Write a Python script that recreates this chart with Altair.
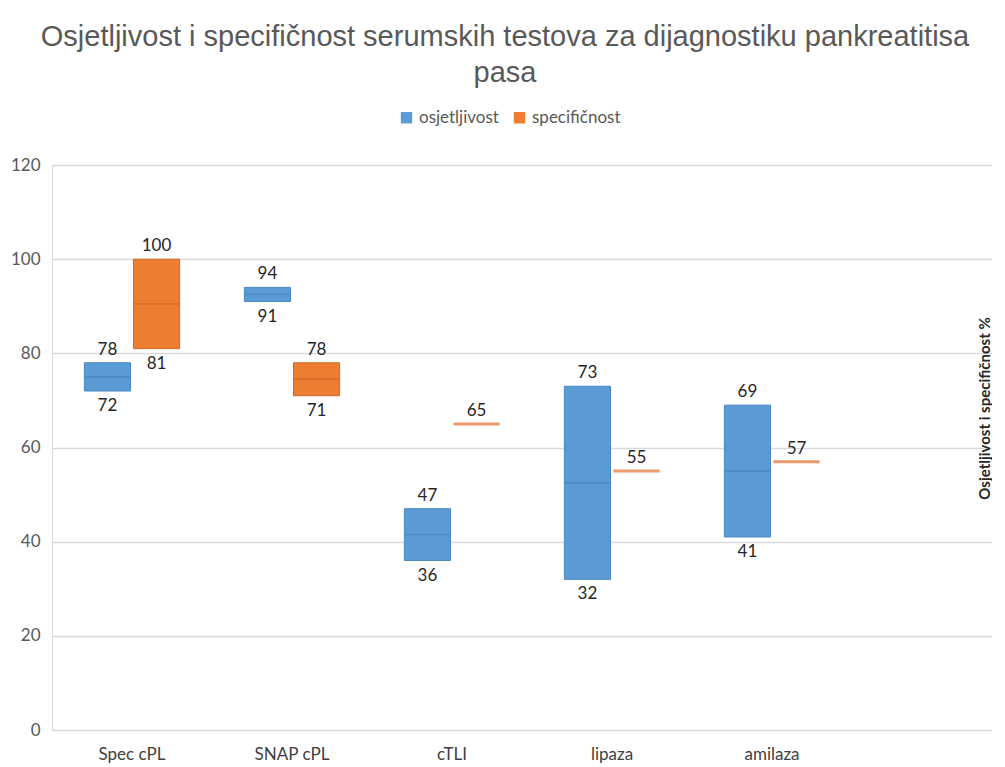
import altair as alt
import pandas as pd

categories = ["Spec cPL", "SNAP cPL", "cTLI", "lipaza", "amilaza"]
series = ["osjetljivost", "specifičnost"]
sens_low = [72, 91, 36, 32, 41]
sens_high = [78, 94, 47, 73, 69]
sens_mid = [75, 92.5, 41.5, 52.5, 55]
spec_low = [81, 71, 65, 55, 57]
spec_high = [100, 78, 65, 55, 57]
spec_mid = [90.5, 74.5, 65, 55, 57]
y_ticks = [0, 20, 40, 60, 80, 100, 120]

rows = []
for i, c in enumerate(categories):
    rows.append(dict(test=c, serija=series[0], low=sens_low[i], high=sens_high[i], mid=sens_mid[i]))
    rows.append(dict(test=c, serija=series[1], low=spec_low[i], high=spec_high[i], mid=spec_mid[i]))
df = pd.DataFrame(rows)

FONT = "Lato"

x = alt.X("test:N", sort=categories,
          scale=alt.Scale(paddingInner=0, paddingOuter=0.4375, align=0),
          axis=alt.Axis(title=None, labelAngle=0, ticks=False, domain=False,
                        labelFont=FONT, labelFontSize=17, labelColor="#404040",
                        labelPadding=16))
xoff = alt.XOffset("serija:N", sort=series,
                   scale=alt.Scale(paddingInner=0.06, paddingOuter=0.66))
yscale = alt.Scale(domain=[0, 120])
yaxis = alt.Axis(values=y_ticks, title=None, ticks=False, labelFont=FONT,
                 labelFontSize=17, labelColor="#595959", labelPadding=12,
                 domainColor="#d9d9d9", gridColor="#d9d9d9", gridWidth=1.5)

fill = alt.Fill("serija:N", sort=series,
                scale=alt.Scale(domain=series, range=["#5b9bd5", "#ed7d31"]),
                legend=alt.Legend(title=None, orient="none", legendX=346, legendY=-56,
                                  direction="horizontal", symbolType="square",
                                  symbolSize=130, symbolStrokeWidth=0,
                                  labelFont=FONT, labelFontSize=17,
                                  labelColor="#595959", columnPadding=12,
                                  labelOffset=4))
stroke = alt.Stroke("serija:N", sort=series,
                    scale=alt.Scale(domain=series, range=["#4a86c2", "#d2692a"]),
                    legend=None)

base = alt.Chart(df)

bars = base.transform_filter("datum.low < datum.high").mark_bar(strokeWidth=1).encode(
    x=x, xOffset=xoff,
    y=alt.Y("low:Q", scale=yscale, axis=yaxis), y2="high:Q",
    fill=fill, stroke=stroke)

flat = base.transform_filter("datum.low == datum.high").mark_bar(
    strokeWidth=3, stroke="#e9996a").encode(
    x=x, xOffset=xoff, y=alt.Y("low:Q", scale=yscale, axis=yaxis), y2="high:Q")

mids = base.transform_filter("datum.low < datum.high").mark_bar(
    strokeWidth=1, fillOpacity=0, strokeOpacity=0.85).encode(
    x=x, xOffset=xoff,
    y=alt.Y("mid:Q", scale=yscale,
            axis=alt.Axis(orient="right", values=[], labels=False, ticks=False,
                          domain=False, grid=False,
                          title="Osjetljivost i specifičnost %",
                          titleAngle=270, titleFont=FONT, titleFontSize=15,
                          titleFontWeight="bold", titleColor="#262626",
                          titlePadding=0, titleY=243, titleBaseline="bottom")),
    y2="mid:Q", stroke=stroke)

top_labels = base.mark_text(font=FONT, fontSize=17, color="#262626",
                            baseline="alphabetic", dy=-8).encode(
    x=x, xOffset=xoff, y=alt.Y("high:Q", scale=yscale, axis=yaxis),
    text=alt.Text("high:Q"))

bottom_labels = base.transform_filter("datum.low < datum.high").mark_text(
    font=FONT, fontSize=17, color="#262626", baseline="top", dy=7).encode(
    x=x, xOffset=xoff, y=alt.Y("low:Q", scale=yscale, axis=yaxis),
    text=alt.Text("low:Q"))

chart = alt.layer(bars, flat, mids, top_labels, bottom_labels).resolve_axis(
    y="independent"
).properties(
    width=940, height=565,
    autosize=alt.AutoSizeParams(type="none"),
    padding={"left": 44, "top": 157, "right": 0, "bottom": 36},
    title=alt.TitleParams(
        ["Osjetljivost i specifičnost serumskih testova za dijagnostiku pankreatitisa", "pasa"],
        font="Liberation Sans", fontSize=29, fontWeight="normal", color="#595959",
        anchor="middle", dx=-17, offset=21, lineHeight=36),
).configure_view(stroke=None).configure(background="white")

chart.save("out.html", embed_options={"renderer": "svg", "actions": False})
